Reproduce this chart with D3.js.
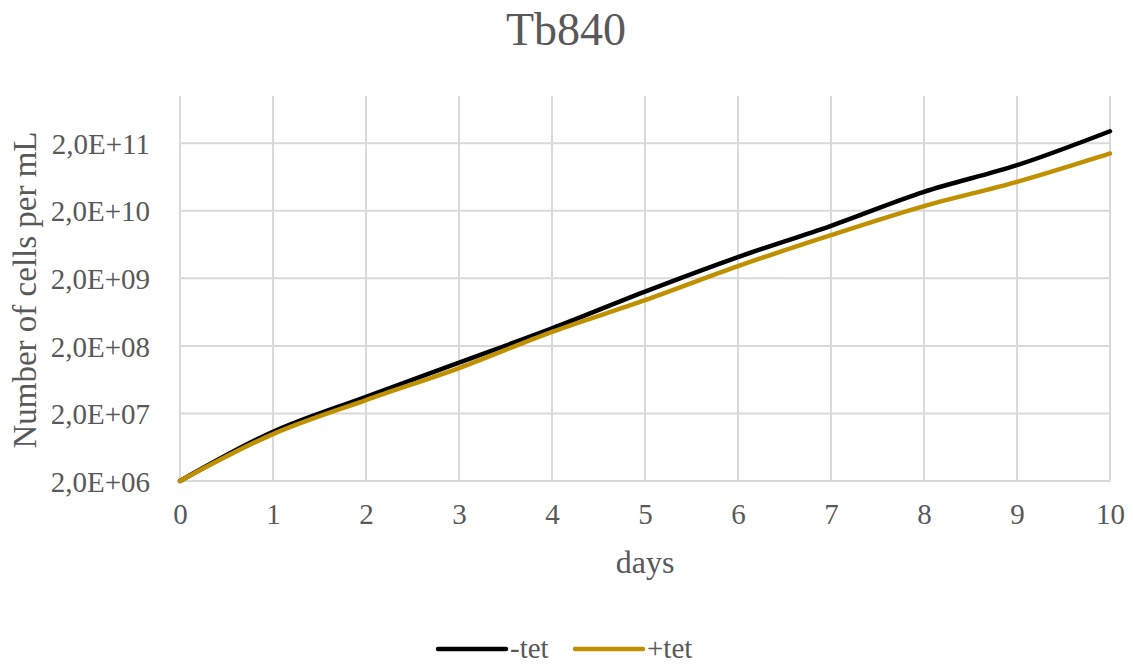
<!DOCTYPE html>
<html><head><meta charset="utf-8">
<script src="https://cdn.jsdelivr.net/npm/d3@7"></script>
<style>
body{margin:0;background:#fff;}
svg text{font-family:"Liberation Serif","Times New Roman",serif;fill:#595959;}
</style></head>
<body><svg id="c" width="1133" height="664"></svg>
<script>
const days = [0,1,2,3,4,5,6,7,8,9,10];
const minusTet = [2e6,1.07e7,3.53e7,1.13e8,3.63e8,1.27e9,4.12e9,1.2e10,3.81e10,9.46e10,3.01e11];
const plusTet = [2e6,9.9e6,3.16e7,9.4e7,3.23e8,9.5e8,3.03e9,8.7e9,2.34e10,5.36e10,1.41e11];
const yTicks = [2e6,2e7,2e8,2e9,2e10,2e11];
const yTickLabels = ["2,0E+06","2,0E+07","2,0E+08","2,0E+09","2,0E+10","2,0E+11"];
const seriesNames = ["-tet","+tet"];
const seriesColors = ["#000000","#BF9000"];

const svg = d3.select("#c");
const x = d3.scaleLinear().domain([0,10]).range([180,1110]);
const y = d3.scaleLog().domain([2e6,1e12]).range([481,96]);

// gridlines
svg.append("g").selectAll("line").data(yTicks).join("line")
  .attr("x1",180).attr("x2",1110).attr("y1",d=>y(d)).attr("y2",d=>y(d))
  .attr("stroke","#d9d9d9").attr("stroke-width",2);
svg.append("g").selectAll("line").data(days).join("line")
  .attr("x1",d=>x(d)).attr("x2",d=>x(d)).attr("y1",96).attr("y2",481)
  .attr("stroke","#d9d9d9").attr("stroke-width",2);

// axes
const yAxis = d3.axisLeft(y).tickValues(yTicks).tickFormat((d,i)=>yTickLabels[i]).tickSize(0).tickPadding(30);
svg.append("g").attr("transform","translate(180,0)").call(yAxis)
  .call(g=>g.select(".domain").remove())
  .selectAll("text").attr("font-size",29).attr("dy","0.35em").style("font-family","Liberation Serif");
const xAxis = d3.axisBottom(x).tickValues(days).tickFormat(d3.format("d")).tickSize(0).tickPadding(22);
svg.append("g").attr("transform","translate(0,481)").call(xAxis)
  .call(g=>g.select(".domain").remove())
  .selectAll("text").attr("font-size",29).style("font-family","Liberation Serif");

// lines
const line = d3.line().x((d,i)=>x(days[i])).y(d=>y(d)).curve(d3.curveCatmullRom.alpha(0.5));
[minusTet, plusTet].forEach((s,k)=>{
  svg.append("path").datum(s).attr("d",line).attr("fill","none")
    .attr("stroke",seriesColors[k]).attr("stroke-width",4.5).attr("stroke-linecap","round");
});
// title
svg.append("text").attr("x",566).attr("y",45).attr("text-anchor","middle").attr("font-size",46).text("Tb840");
svg.append("text").attr("x",645).attr("y",573).attr("text-anchor","middle").attr("font-size",32).text("days");
svg.append("text").attr("transform","translate(36,290) rotate(-90)").attr("text-anchor","middle").attr("font-size",33).text("Number of cells per mL");

// legend
const lx = [438,575];
seriesNames.forEach((n,k)=>{
  svg.append("line").attr("x1",lx[k]).attr("x2",lx[k]+68).attr("y1",649).attr("y2",649)
    .attr("stroke",seriesColors[k]).attr("stroke-width",4.5).attr("stroke-linecap","round");
  svg.append("text").attr("x",lx[k]+72).attr("y",658).attr("font-size",29).text(n);
});
</script></body></html>
